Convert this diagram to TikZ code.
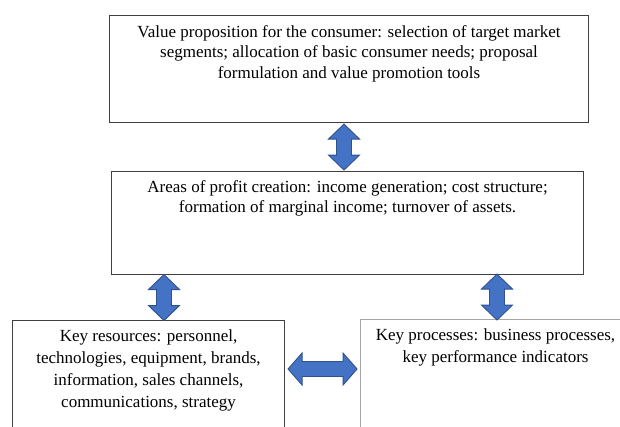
\documentclass[tikz,border=0pt]{standalone}
\usepackage{fontspec}
\setmainfont{Liberation Serif}
\usetikzlibrary{calc}

\definecolor{boxline}{HTML}{404040}
\definecolor{paleline}{HTML}{A6A6A6}
\definecolor{arrowfill}{HTML}{4472C4}
\definecolor{arrowline}{HTML}{2F528F}

\tikzset{
  block/.style={draw=boxline, line width=1.1pt, inner sep=0pt, anchor=north west},
  blocktext/.style={align=center, inner sep=0pt, anchor=north,
    font=\fontsize{17}{20.5}\selectfont},
  twoway/.style={fill=arrowfill, draw=arrowline, line width=0.9pt, line join=miter},
  updown/.pic={
    \path [twoway] (0,23) -- (15.5,8) -- (7.5,8) -- (7.5,-8) -- (15.5,-8)
      -- (0,-23) -- (-15.5,-8) -- (-7.5,-8) -- (-7.5,8) -- (-15.5,8) -- cycle;
  },
  leftright/.pic={
    \path [twoway] (34.5,0) -- (20.5,16) -- (20.5,7.5) -- (-20.5,7.5) -- (-20.5,16)
      -- (-34.5,0) -- (-20.5,-16) -- (-20.5,-7.5) -- (20.5,-7.5) -- (20.5,-16) -- cycle;
  }
}

\begin{document}
\begin{tikzpicture}[x=1pt, y=1pt]

\path [use as bounding box] (0,0) rectangle (620,-426);
\clip (0,0) rectangle (620,-426);

% BOXES
\node [block, minimum width=479pt, minimum height=107pt] (value) at (109,-15) {};
\node [block, minimum width=472pt, minimum height=103pt] (profit) at (111,-171) {};
\node [block, minimum width=272pt, minimum height=150pt] (resources) at (12,-320) {};
\node [block, draw=paleline, minimum width=270pt, minimum height=150pt] (processes) at (360,-319) {};

% TEXTS
\node [blocktext] (valuetext) at ($(value.north)+(0,-10)$)
  {Value proposition for the consumer: selection of target market\\
   segments; allocation of basic consumer needs; proposal\\
   formulation and value promotion tools};
\node [blocktext] (profittext) at ($(profit.north)+(0,-9)$)
  {Areas of profit creation: income generation; cost structure;\\
   formation of marginal income; turnover of assets.};
\node [blocktext, font=\fontsize{17}{22}\selectfont] (resourcestext) at ($(resources.north)+(0,-9)$)
  {Key resources: personnel,\\
   technologies, equipment, brands,\\
   information, sales channels,\\
   communications, strategy};
\node [blocktext, font=\fontsize{17}{22}\selectfont] (processestext) at ($(processes.north)+(0,-9.5)$)
  {Key processes: business processes,\\
   key performance indicators};

% ARROWS
\path ($(344,0 |- value.south)!0.5!(344,0 |- profit.north)$) pic {updown};
\path ($(164,0 |- profit.south)!0.5!(164,0 |- resources.north)$) pic {updown};
\path ($(497,0 |- profit.south)!0.5!(497,0 |- processes.north)$) pic {updown};
\path ($(resources.east |- 0,-369)!0.5!(processes.west |- 0,-369)$) pic {leftright};

\end{tikzpicture}
\end{document}
